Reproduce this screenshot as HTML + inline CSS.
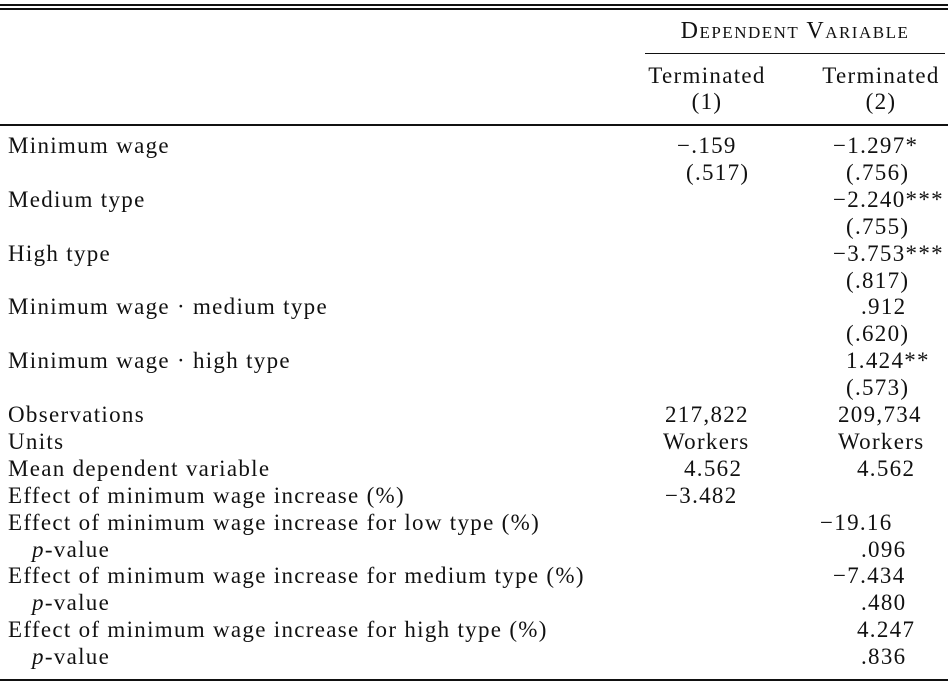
<!DOCTYPE html>
<html><head><meta charset="utf-8"><style>
body{margin:0;background:#fff;width:948px;height:688px;position:relative;overflow:hidden;font-family:"Liberation Serif",serif;color:#111;font-size:23px;letter-spacing:1.3px}
.t{position:absolute;white-space:nowrap;line-height:26px}
.r{position:absolute;background:#111}
.sc{font-variant:small-caps;letter-spacing:1.5px;font-size:24px}
</style></head><body>
<div class="r" style="left:0;top:4px;width:948px;height:1.5px"></div>
<div class="r" style="left:0;top:8px;width:948px;height:1.5px"></div>
<div class="t sc" style="left:645px;width:300px;text-align:center;top:18px">Dependent Variable</div>
<div class="r" style="left:645px;top:53px;width:300px;height:1.2px"></div>
<div class="t" style="left:637px;width:140px;text-align:center;top:63px">Terminated<br>(1)</div>
<div class="t" style="left:811px;width:140px;text-align:center;top:63px">Terminated<br>(2)</div>
<div class="r" style="left:0;top:124px;width:948px;height:1.5px"></div>
<div class="r" style="left:0;top:679px;width:948px;height:1.5px"></div>
<div id="rows"></div>
<script>
const labels=["Minimum wage","","Medium type","","High type","","Minimum wage · medium type","","Minimum wage · high type","","Observations","Units","Mean dependent variable","Effect of minimum wage increase (%)","Effect of minimum wage increase for low type (%)","<i>p</i>-value","Effect of minimum wage increase for medium type (%)","<i>p</i>-value","Effect of minimum wage increase for high type (%)","<i>p</i>-value"];
const col1=["−.159","(.517)","","","","","","","","","217,822","Workers","4.562","−3.482","","","","","",""];
const col1x=[677,686,0,0,0,0,0,0,0,0,665,663,684,665,0,0,0,0,0,0];
const col2=["−1.297*","(.756)","−2.240***","(.755)","−3.753***","(.817)",".912","(.620)","1.424**","(.573)","209,734","Workers","4.562","","−19.16",".096","−7.434",".480","4.247",".836"];
const col2x=[833,846,833,846,833,846,861,846,846,846,838,838,857,0,820,861,833,861,857,861];
const root=document.getElementById('rows');
labels.forEach((l,i)=>{
 const y=133+i*26.9;
 const a=document.createElement('div');a.className='t';a.style.left=(l.startsWith('<i>')?'32':'8')+'px';a.style.top=y+'px';a.innerHTML=l;
 
 
 root.appendChild(a);
 if(col1[i]){const b=document.createElement('div');b.className='t';b.style.left=col1x[i]+'px';b.style.top=y+'px';b.textContent=col1[i];
 
 
 root.appendChild(b);}
 if(col2[i]){const c=document.createElement('div');c.className='t';c.style.left=col2x[i]+'px';c.style.top=y+'px';c.textContent=col2[i];
 
 
 root.appendChild(c);}
});
</script>
</body></html>
